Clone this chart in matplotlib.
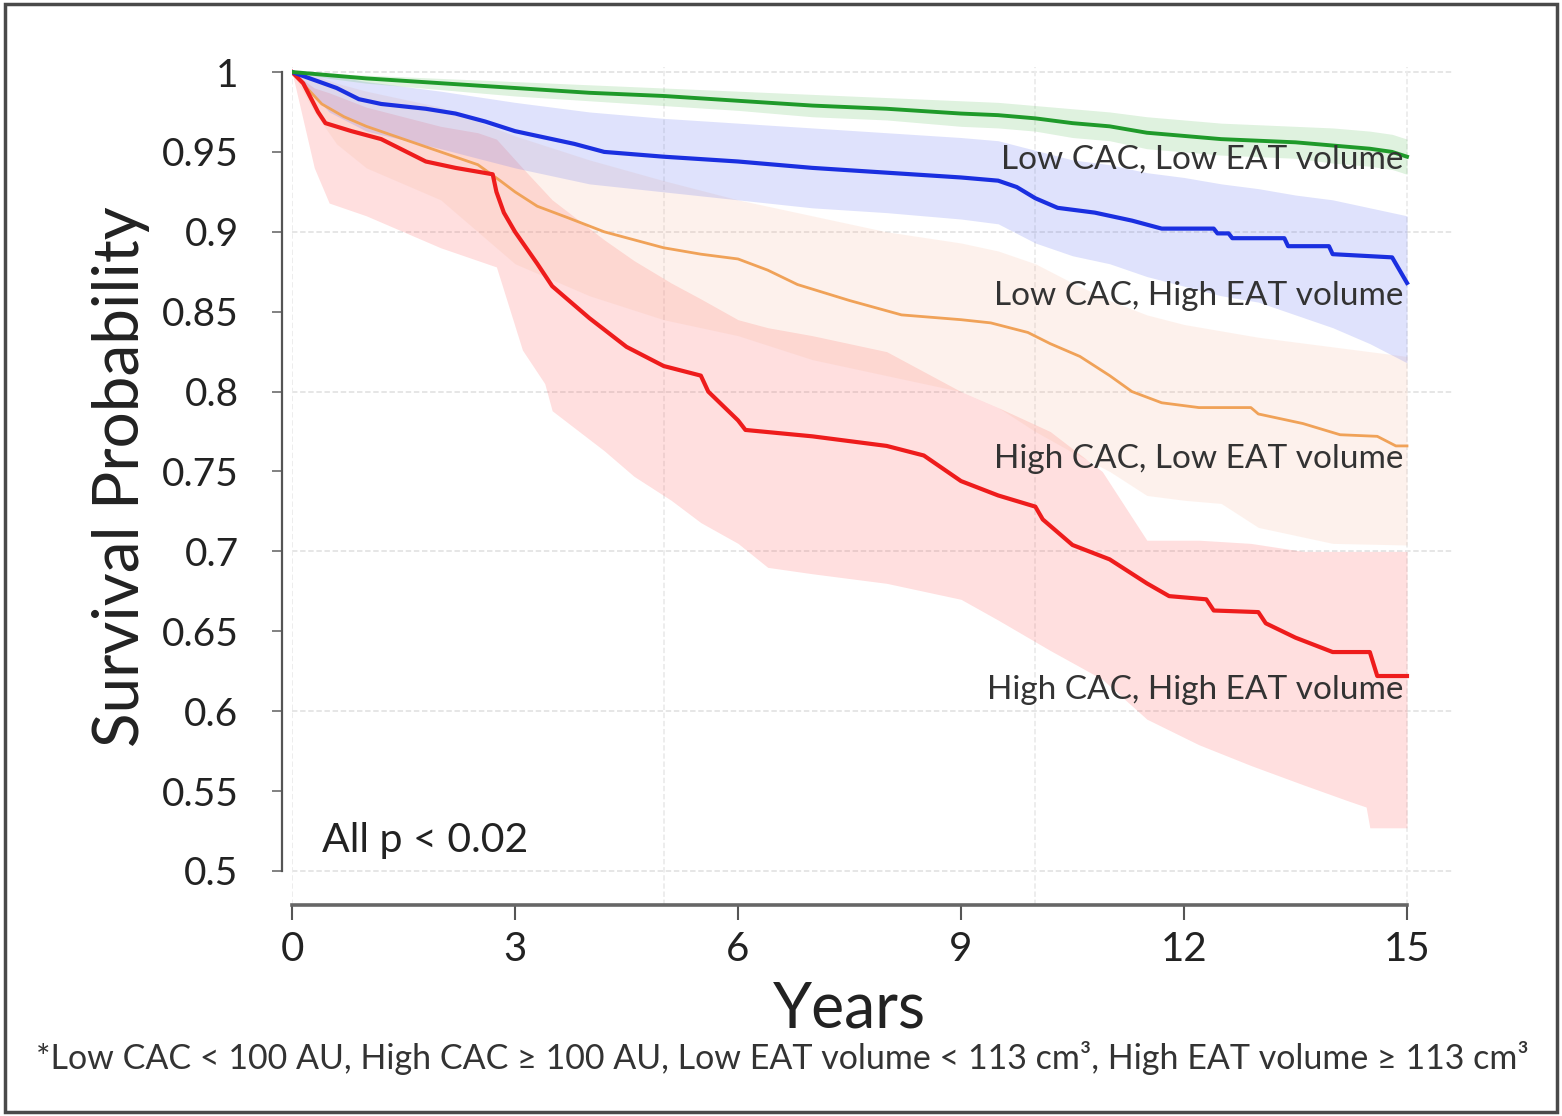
import matplotlib
matplotlib.use("Agg")
import matplotlib.pyplot as plt
from matplotlib.patches import Rectangle

plt.rcParams['font.family'] = ['Lato', 'DejaVu Sans']

# Kaplan-Meier curves (years, survival probability)
green_t = [0, 0.5, 1, 2, 3, 4, 5, 6, 7, 8, 9, 9.5, 10, 10.5, 11, 11.5, 12, 12.5, 13, 13.5, 14, 14.5, 14.8, 15]
green_s = [1.0, 0.998, 0.996, 0.993, 0.99, 0.987, 0.985, 0.982, 0.979, 0.977, 0.974, 0.973, 0.971, 0.968,
           0.966, 0.962, 0.96, 0.958, 0.957, 0.956, 0.954, 0.952, 0.95, 0.947]
green_hi = [1.0, 0.999, 0.998, 0.996, 0.994, 0.992, 0.99, 0.988, 0.986, 0.984, 0.982, 0.981, 0.979, 0.977,
            0.975, 0.972, 0.97, 0.968, 0.967, 0.966, 0.965, 0.963, 0.961, 0.958]
green_lo = [1.0, 0.996, 0.993, 0.989, 0.985, 0.982, 0.979, 0.976, 0.972, 0.97, 0.966, 0.965, 0.963, 0.959,
            0.957, 0.952, 0.95, 0.948, 0.947, 0.946, 0.943, 0.941, 0.939, 0.936]

blue_t = [0, 0.3, 0.6, 0.9, 1.2, 1.8, 2.2, 2.6, 3.0, 3.4, 3.8, 4.2, 5.0, 6.0, 7.0, 8.0, 9.0, 9.5, 9.75, 10.0,
          10.3, 10.8, 11.3, 11.7, 12.4, 12.45, 12.6, 12.65, 13.35, 13.4, 13.95, 14.0, 14.8, 15.0]
blue_s = [1.0, 0.995, 0.99, 0.983, 0.98, 0.977, 0.974, 0.969, 0.963, 0.959, 0.955, 0.95, 0.947, 0.944, 0.94,
          0.937, 0.934, 0.932, 0.928, 0.921, 0.915, 0.912, 0.907, 0.902, 0.902, 0.899, 0.899, 0.896, 0.896,
          0.891, 0.891, 0.886, 0.884, 0.868]
blue_band_t = [0, 0.5, 1, 2, 3, 4, 5, 6, 7, 8, 9, 9.5, 10, 10.5, 11, 11.5, 12, 12.5, 13, 13.5, 14, 14.5, 15]
blue_hi = [1.0, 0.998, 0.994, 0.988, 0.981, 0.975, 0.971, 0.968, 0.965, 0.962, 0.959, 0.957, 0.951, 0.945,
           0.942, 0.937, 0.934, 0.93, 0.927, 0.923, 0.92, 0.915, 0.91]
blue_lo = [1.0, 0.975, 0.963, 0.952, 0.94, 0.93, 0.925, 0.92, 0.915, 0.912, 0.908, 0.905, 0.893, 0.885,
           0.88, 0.872, 0.866, 0.86, 0.856, 0.848, 0.84, 0.83, 0.818]

orange_t = [0, 0.2, 0.4, 0.7, 1.0, 1.5, 2.0, 2.5, 2.8, 3.0, 3.3, 3.7, 4.2, 5.0, 5.5, 6.0, 6.4, 6.8, 7.5, 8.2,
            9.0, 9.4, 9.9, 10.2, 10.6, 11.0, 11.3, 11.7, 12.2, 12.9, 13.0, 13.6, 14.1, 14.6, 14.85, 15.0]
orange_s = [1.0, 0.99, 0.98, 0.972, 0.966, 0.958, 0.95, 0.942, 0.932, 0.925, 0.916, 0.909, 0.9, 0.89, 0.886,
            0.883, 0.876, 0.867, 0.857, 0.848, 0.845, 0.843, 0.837, 0.83, 0.822, 0.81, 0.8, 0.793, 0.79, 0.79,
            0.786, 0.78, 0.773, 0.772, 0.766, 0.766]
orange_band_t = [0, 0.3, 0.6, 1.0, 2.0, 3.0, 4.0, 5.0, 6.0, 7.0, 8.0, 9.0, 9.5, 10.0, 10.5, 11.0, 11.5, 12.0,
                 12.5, 13.0, 14.0, 15.0]
orange_hi = [1.0, 0.998, 0.993, 0.988, 0.978, 0.96, 0.945, 0.932, 0.92, 0.91, 0.9, 0.893, 0.888, 0.88, 0.868,
             0.857, 0.848, 0.842, 0.838, 0.834, 0.828, 0.822]
orange_lo = [1.0, 0.975, 0.955, 0.94, 0.92, 0.88, 0.86, 0.845, 0.835, 0.82, 0.81, 0.8, 0.79, 0.775, 0.762,
             0.75, 0.735, 0.732, 0.73, 0.715, 0.705, 0.704]

red_t = [0, 0.15, 0.35, 0.45, 0.8, 1.2, 1.5, 1.8, 2.2, 2.7, 2.75, 2.85, 3.0, 3.3, 3.5, 4.0, 4.5, 5.0, 5.5,
         5.6, 6.0, 6.1, 7.0, 8.0, 8.5, 9.0, 9.5, 10.0, 10.1, 10.5, 11.0, 11.5, 11.8, 12.3, 12.4, 13.0, 13.1,
         13.5, 14.0, 14.5, 14.6, 15.0]
red_s = [1.0, 0.993, 0.975, 0.968, 0.963, 0.958, 0.951, 0.944, 0.94, 0.936, 0.925, 0.912, 0.9, 0.88, 0.866,
         0.846, 0.828, 0.816, 0.81, 0.8, 0.782, 0.776, 0.772, 0.766, 0.76, 0.744, 0.735, 0.728, 0.72, 0.704,
         0.695, 0.68, 0.672, 0.67, 0.663, 0.662, 0.655, 0.646, 0.637, 0.637, 0.622, 0.622]
red_band_t = [0, 0.3, 0.5, 1.0, 1.5, 2.0, 2.5, 2.75, 3.1, 3.4, 3.5, 4.2, 4.6, 5.1, 5.5, 6.0, 6.4, 7.0, 8.0,
              9.0, 9.5, 10.2, 10.9, 11.5, 12.2, 12.9, 13.6, 14.2, 14.45, 14.5, 15.0]
red_hi = [1.0, 0.99, 0.987, 0.978, 0.972, 0.966, 0.962, 0.958, 0.94, 0.925, 0.92, 0.895, 0.882, 0.868, 0.858,
          0.845, 0.84, 0.835, 0.825, 0.8, 0.79, 0.775, 0.75, 0.707, 0.707, 0.705, 0.7, 0.7, 0.7, 0.7, 0.7]
red_lo = [1.0, 0.94, 0.918, 0.91, 0.9, 0.89, 0.882, 0.878, 0.826, 0.805, 0.788, 0.763, 0.747, 0.732, 0.718,
          0.705, 0.69, 0.686, 0.68, 0.67, 0.657, 0.638, 0.62, 0.595, 0.579, 0.566, 0.554, 0.544, 0.54, 0.527,
          0.527]

labels = ["Low CAC, Low EAT volume", "Low CAC, High EAT volume",
          "High CAC, Low EAT volume", "High CAC, High EAT volume"]
label_y = [0.945, 0.86, 0.758, 0.613]

y_ticks = [0.5, 0.55, 0.6, 0.65, 0.7, 0.75, 0.8, 0.85, 0.9, 0.95, 1.0]
y_tick_labels = ["0.5", "0.55", "0.6", "0.65", "0.7", "0.75", "0.8", "0.85", "0.9", "0.95", "1"]
x_ticks = [0, 3, 6, 9, 12, 15]
grid_y = [0.5, 0.6, 0.7, 0.8, 0.9, 1.0]
grid_x = [0, 5, 10, 15]

fig = plt.figure(figsize=(15.62, 11.16), dpi=100)
ax = fig.add_axes([0.18694, 0.18907, 0.74238, 0.7507])
ax.set_xlim(0, 15.6)
ax.set_ylim(0.4787, 1.003)

for g in grid_y:
    ax.axhline(g, color='#e4e4e4', lw=1.3, ls=(0, (3, 1.5)), zorder=0)
for g in grid_x:
    ax.axvline(g, color='#ececec', lw=1.3, ls=(0, (3, 1.5)), zorder=0)

# confidence bands
ax.fill_between(red_band_t, red_lo, red_hi, color='#ff6060', alpha=0.2, lw=0, zorder=1)
ax.fill_between(orange_band_t, orange_lo, orange_hi, color='#f8b090', alpha=0.17, lw=0, zorder=1)
ax.fill_between(blue_band_t, blue_lo, blue_hi, color='#6070f0', alpha=0.2, lw=0, zorder=1)
ax.fill_between(green_t, green_lo, green_hi, color='#60c060', alpha=0.2, lw=0, zorder=1)

# survival curves
ax.plot(orange_t, orange_s, color='#f0a258', lw=2.0, zorder=3)
ax.plot(red_t, red_s, color='#ee1c1c', lw=3.0, zorder=4)
ax.plot(blue_t, blue_s, color='#1a2fe0', lw=3.0, zorder=4)
ax.plot(green_t, green_s, color='#1f9a2a', lw=2.8, zorder=4)

for txt, yy in zip(labels, label_y):
    ax.text(14.95, yy, txt, ha='right', va='center', fontsize=24, color='#333333', zorder=5)
ax.text(0.4, 0.519, "All p < 0.02", ha='left', va='center', fontsize=29.5, color='#222222')

ax.set_yticks(y_ticks)
ax.set_yticklabels(y_tick_labels)
ax.set_xticks(x_ticks)
ax.tick_params(axis='y', labelsize=28, length=7, width=1.3, color='#777777', pad=24, labelcolor='#222222')
ax.tick_params(axis='x', labelsize=29, length=11, width=1.5, color='#555555', pad=8, labelcolor='#222222')

for side in ['top', 'right']:
    ax.spines[side].set_visible(False)
ax.spines['left'].set_bounds(0.5, 1.0)
ax.spines['left'].set_position(('outward', 7.5))
ax.spines['bottom'].set_bounds(0, 15)
ax.spines['left'].set_color('#555555')
ax.spines['bottom'].set_color('#666666')
ax.spines['left'].set_linewidth(1.6)
ax.spines['bottom'].set_linewidth(2.6)

fig.text(0.0775, 0.573, "Survival Probability", rotation=90, ha='center', va='center',
         fontsize=46, color='#222222')
fig.text(0.5438, 0.095, "Years", ha='center', va='center', fontsize=45, color='#222222')
fig.text(0.5007, 0.052, "*Low CAC < 100 AU, High CAC \u2265 100 AU, Low EAT volume < 113 cm\u00b3, "
         "High EAT volume \u2265 113 cm\u00b3", ha='center', va='center', fontsize=24.5, color='#333333')

fig.add_artist(Rectangle((0.003, 0.004), 0.994, 0.992, transform=fig.transFigure,
                         fill=False, edgecolor='#4a4a4a', lw=2.5))

fig.savefig('out.png', dpi=100)
